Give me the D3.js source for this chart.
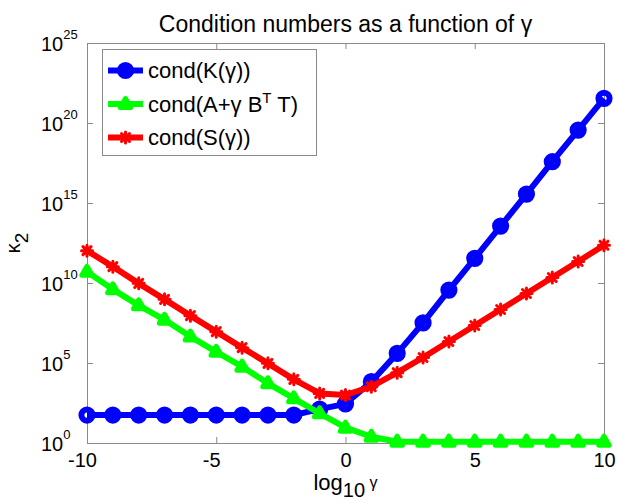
<!DOCTYPE html>
<html><head><meta charset="utf-8">
<script src="https://cdn.jsdelivr.net/npm/d3@7"></script>
<style>
body{margin:0;background:#fff}
text{font-family:"Liberation Sans",Arial,Helvetica,sans-serif;fill:#000}
</style>
</head><body>
<svg id="chart" width="618" height="503"></svg>
<script>
// ---- data ----
const log10Gamma = [-10,-9,-8,-7,-6,-5,-4,-3,-2,-1,0,1,2,3,4,5,6,7,8,9,10];
const condK   = [5.6e1,5.6e1,5.6e1,5.6e1,5.6e1,5.6e1,5.6e1,5.6e1,5.6e1,1.3e2,2.8e2,6.8e3,4.0e5,3.2e7,3.6e9,3.5e11,3.6e13,3.6e15,3.8e17,3.6e19,3.5e21];
const condATB = [5.0e10,4.0e9,4.0e8,5.0e7,4.5e6,5.0e5,5.9e4,5.4e3,6.2e2,7.2e1,9.1,2.45,1.2,1.2,1.2,1.2,1.2,1.2,1.2,1.2,1.2];
const condS   = [1.05e12,1.05e11,9.5e9,9.5e8,9.1e7,9.1e6,9.1e5,9.5e4,9.5e3,1.26e3,1.0e3,3.3e3,2.5e4,2.2e5,2.2e6,2.2e7,2.2e8,2.2e9,2.2e10,2.2e11,2.3e12];
const xTicks = [-10,-5,0,5,10];
const yTicks = [1e0,1e5,1e10,1e15,1e20,1e25];
const yTickExp = ["0","5","10","15","20","25"];
const seriesColors = ["#0000ff","#00ff00","#ff0000"];
const seriesMarkers = ["circle","triangle","asterisk"];
const titleText = "Condition numbers as a function of γ";

// ---- layout ----
const W = 618, H = 503;
const m = {left:87, right:14, top:43, bottom:60};
const svg = d3.select("#chart");
const x = d3.scaleLinear().domain([-10,10]).range([m.left, W - m.right]);
const y = d3.scaleLog().domain([1, 1e25]).range([H - m.bottom, m.top]);
const axisColor = "#8a8a8a";

// ---- axes ----
const gx = svg.append("g").attr("transform",`translate(0,${H-m.bottom})`)
  .call(d3.axisBottom(x).tickValues(xTicks).tickSize(-6).tickSizeOuter(0).tickPadding(10).tickFormat(d => String(d)));
gx.selectAll("text").style("font-size","20px").attr("dx", d => d < 0 ? -5 : 0);
const gxt = svg.append("g").attr("transform",`translate(0,${m.top})`)
  .call(d3.axisTop(x).tickValues(xTicks).tickSize(-6).tickSizeOuter(0).tickFormat(""));
const gy = svg.append("g").attr("transform",`translate(${m.left},0)`)
  .call(d3.axisLeft(y).tickValues(yTicks).tickSize(-6).tickSizeOuter(0).tickFormat(""));
gy.selectAll(".tick").each(function(d,i){
  const t = d3.select(this).append("text").attr("x",-46).attr("y",7.5)
    .attr("text-anchor","start").style("font-size","20px").attr("dy",null);
  t.append("tspan").text("10");
  t.append("tspan").attr("dy",-12).style("font-size","13px").text(yTickExp[i]);
});
const gyr = svg.append("g").attr("transform",`translate(${W-m.right},0)`)
  .call(d3.axisRight(y).tickValues(yTicks).tickSize(-6).tickSizeOuter(0).tickFormat(""));
[gx,gxt,gy,gyr].forEach(g=>{
  g.select(".domain").remove();
  g.selectAll("line").attr("stroke",axisColor);
});
svg.append("rect")
  .attr("x",m.left+0.5).attr("y",m.top+0.5)
  .attr("width",W-m.left-m.right).attr("height",H-m.top-m.bottom)
  .attr("fill","none").attr("stroke",axisColor);

// ---- series ----
function drawMarker(g, type, color){
  if(type==="circle"){
    g.append("circle").attr("r",5.6).attr("fill","none").attr("stroke",color).attr("stroke-width",6);
  } else if(type==="triangle"){
    g.append("path").attr("d","M0,-5.5L5.2,3.5L-5.2,3.5Z").attr("fill",color)
      .attr("stroke",color).attr("stroke-width",5).attr("stroke-linejoin","round");
  } else {
    g.append("path").attr("d","M-5.5,0H5.5M0,-5.5V5.5M-4,-4L4,4M-4,4L4,-4")
      .attr("stroke",color).attr("stroke-width",3).attr("stroke-linecap","round");
  }
}
const seriesData = [condK, condATB, condS];
const line = d3.line().x(d=>x(d[0])).y(d=>y(d[1]));
seriesData.forEach((vals,si)=>{
  const pts = log10Gamma.map((g,i)=>[g, vals[i]]);
  const col = seriesColors[si];
  svg.append("path").datum(pts).attr("d",line).attr("fill","none")
    .attr("stroke",col).attr("stroke-width",6).attr("stroke-linejoin","round");
  pts.forEach(p=>{
    const g = svg.append("g").attr("transform",`translate(${x(p[0])},${y(p[1])})`);
    drawMarker(g, seriesMarkers[si], col);
  });
});

// ---- title & labels ----
svg.append("text").attr("x",(m.left+W-m.right)/2).attr("y",32).attr("text-anchor","middle")
  .style("font-size","23px").text(titleText);
const xl = svg.append("text").attr("x",(m.left+W-m.right)/2).attr("y",490)
  .attr("text-anchor","middle").style("font-size","22px");
xl.append("tspan").text("log");
xl.append("tspan").attr("dy",7).style("font-size","20px").text("10");
xl.append("tspan").attr("dy",-9).style("font-size","16px").text(" γ");
const yl = svg.append("text").attr("transform","translate(20,243) rotate(-90)")
  .attr("text-anchor","middle").style("font-size","20px");
yl.append("tspan").text("κ");
yl.append("tspan").attr("dy",8).style("font-size","19px").text("2");

// ---- legend ----
const lg = svg.append("g");
lg.append("rect").attr("x",102.5).attr("y",49.5).attr("width",214).attr("height",106)
  .attr("fill","#fff").attr("stroke",axisColor);
const legendRows = [70.5,104,137.5];
legendRows.forEach((ly,i)=>{
  const col = seriesColors[i];
  lg.append("line").attr("x1",108).attr("x2",143).attr("y1",ly).attr("y2",ly)
    .attr("stroke",col).attr("stroke-width",6);
  drawMarker(lg.append("g").attr("transform",`translate(125.5,${ly})`), seriesMarkers[i], col);
  const t = lg.append("text").attr("x",148).attr("y",ly+7.5).style("font-size","22px");
  if(i===0){ t.text("cond(K(γ))"); }
  else if(i===1){
    t.append("tspan").text("cond(A+γ B");
    t.append("tspan").attr("dy",-9).style("font-size","15px").text("T");
    t.append("tspan").attr("dy",9).text(" T)");
  } else { t.text("cond(S(γ))"); }
});
</script>
</body></html>
